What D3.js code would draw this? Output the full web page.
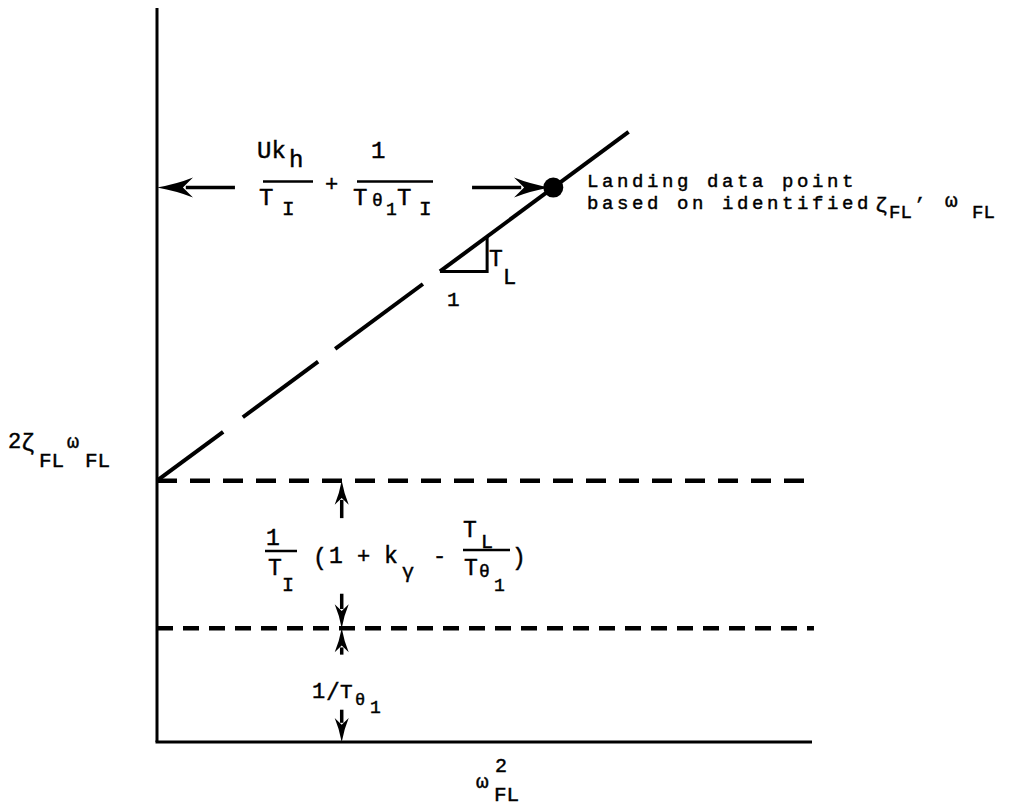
<!DOCTYPE html>
<html>
<head>
<meta charset="utf-8">
<script src="https://cdn.jsdelivr.net/npm/d3@7"></script>
<style>
  html, body { margin: 0; padding: 0; background: #fff; }
  svg { display: block; }
  text { font-family: "Liberation Mono", "Courier New", monospace; fill: #000; stroke: #000; stroke-width: 0.45px; }
</style>
</head>
<body>
<svg id="chart" width="1016" height="810"></svg>
<script>
// Domains of the schematic axes (omega_FL^2 horizontally, 2*zeta*omega vertically)
const xDomain = [0, 10];
const yDomain = [0, 10];

// Levels on the vertical axis
const thetaLevel = 1.55;      // 1/T_theta1
const interceptLevel = 3.56;  // 1/T_theta1 + (1/T_I)(1 + k_gamma - T_L/T_theta1)
const slopeTL = 0.66;         // slope of the line, T_L

// Landing data point abscissa
const pointX = [6.05];

// Broken (extrapolated) part of the line, then the solid part
const dashedRuns = [[0, 1.01], [1.31, 2.46], [2.72, 4.06]];
const solidRun = [4.32, 7.2];

// Slope triangle under the line
const triangleX = [4.32, 5.04];

// Horizontal reference levels and where they stop
const levelValues = [interceptLevel, thetaLevel];
const levelEnds = [9.91, 10.03];

// Dimension arrows
const spanArrowX = 2.82;
const upperSpanArrows = [[3.05, interceptLevel], [2.02, thetaLevel]];
const lowerSpanArrows = [[1.19, thetaLevel], [0.44, 0]];
const pointArrows = [[1.19, 0], [4.81, 6.0]];

const svg = d3.select("#chart");
const x = d3.scaleLinear().domain(xDomain).range([157, 812]);
const y = d3.scaleLinear().domain(yDomain).range([742, 8]);
const lineY = v => interceptLevel + slopeTL * v;

// Axes: plain lines without ticks
svg.append("line").attr("x1", x(0)).attr("x2", x(0)).attr("y1", y(10)).attr("y2", y(0))
  .attr("stroke", "#000").attr("stroke-width", 3);
svg.append("line").attr("x1", x(0) - 1.5).attr("x2", x(10)).attr("y1", y(0)).attr("y2", y(0))
  .attr("stroke", "#000").attr("stroke-width", 3);

// Horizontal dashed levels
const dashPatterns = ["20,13", "16,10"];
svg.selectAll(".level").data(levelValues).join("line")
  .attr("class", "level")
  .attr("x1", x(0)).attr("x2", (d, i) => x(levelEnds[i]))
  .attr("y1", d => y(d)).attr("y2", d => y(d))
  .attr("stroke", "#000").attr("stroke-width", 4.5)
  .attr("stroke-dasharray", (d, i) => dashPatterns[i]);

// Fitted line: dashed near the intercept, solid through the data point
svg.selectAll(".run").data(dashedRuns.concat([solidRun])).join("line")
  .attr("class", "run")
  .attr("x1", d => x(d[0])).attr("y1", d => y(lineY(d[0])))
  .attr("x2", d => x(d[1])).attr("y2", d => y(lineY(d[1])))
  .attr("stroke", "#000").attr("stroke-width", 4).attr("stroke-linecap", "butt");

// Slope triangle
svg.append("path")
  .attr("d", d3.line()([
    [x(triangleX[0]), y(lineY(triangleX[0]))],
    [x(triangleX[1]), y(lineY(triangleX[0]))],
    [x(triangleX[1]), y(lineY(triangleX[1]))]
  ]))
  .attr("fill", "none").attr("stroke", "#000").attr("stroke-width", 3);

// Landing data point
svg.selectAll(".pt").data(pointX).join("circle")
  .attr("class", "pt")
  .attr("cx", d => x(d)).attr("cy", d => y(lineY(d))).attr("r", 10).attr("fill", "#000");

// Arrow helper: shaft from tail to tip with a swept head at the tip
function arrow(x0, y0, x1, y1, L, W) {
  const dx = x1 - x0, dy = y1 - y0, len = Math.hypot(dx, dy);
  const ux = dx / len, uy = dy / len, px = -uy, py = ux;
  const bx = x1 - ux * L * 0.8, by = y1 - uy * L * 0.8;
  svg.append("line").attr("x1", x0).attr("y1", y0).attr("x2", bx).attr("y2", by)
    .attr("stroke", "#000").attr("stroke-width", 3.5);
  const p = d3.path();
  p.moveTo(x1, y1);
  p.quadraticCurveTo(x1 - ux * L * 0.55 + px * W * 0.35, y1 - uy * L * 0.55 + py * W * 0.35,
                     x1 - ux * L + px * W, y1 - uy * L + py * W);
  p.lineTo(x1 - ux * L * 0.72, y1 - uy * L * 0.72);
  p.lineTo(x1 - ux * L - px * W, y1 - uy * L - py * W);
  p.quadraticCurveTo(x1 - ux * L * 0.55 - px * W * 0.35, y1 - uy * L * 0.55 - py * W * 0.35, x1, y1);
  p.closePath();
  svg.append("path").attr("d", p.toString()).attr("fill", "#000");
}

// Arrows pointing to the axis and to the data point
const pY = y(lineY(pointX[0]));
pointArrows.forEach(([from, to]) => arrow(x(from), pY, x(to), pY, 36, 10));

// Vertical dimension arrows between the levels
upperSpanArrows.concat(lowerSpanArrows).forEach(([from, to]) =>
  arrow(x(spanArrowX), y(from), x(spanArrowX), y(to), 24, 7));

// Text helpers
function txt(px, py, s, size) {
  return svg.append("text").attr("x", px).attr("y", py).attr("font-size", size).text(s);
}
function bar(x0, x1, yy) {
  svg.append("line").attr("x1", x0).attr("x2", x1).attr("y1", yy).attr("y2", yy)
    .attr("stroke", "#000").attr("stroke-width", 2.5);
}

// Uk_h/T_I + 1/(T_theta1 T_I)
const fb = pY - 6;
txt(257, fb - 24, "Uk", 24);
txt(289, fb - 15, "h", 24);
bar(263, 313, fb);
txt(259, fb + 23, "T", 24);
txt(282, fb + 33, "I", 21);
txt(325, fb + 9, "+", 22);
txt(371, fb - 24, "1", 24);
bar(357, 433, fb);
txt(353, fb + 23, "T", 24);
txt(372, fb + 24, "\u03b8", 18);
txt(386, fb + 33, "1", 18);
txt(397, fb + 23, "T", 24);
txt(419, fb + 33, "I", 21);

// Landing data point caption (one text block)
const cap = svg.append("text").attr("font-size", 19);
cap.append("tspan").attr("x", 587).attr("y", 187).attr("letter-spacing", 3.6).text("Landing data point");
cap.append("tspan").attr("x", 587).attr("y", 209).attr("letter-spacing", 3.6).text("based on identified");
cap.append("tspan").attr("x", 875).attr("y", 212).attr("font-size", 21).text("\u03b6");
cap.append("tspan").attr("x", 889).attr("y", 218).attr("font-size", 19).text("FL");
cap.append("tspan").attr("x", 914).attr("y", 210).text("\u2019");
cap.append("tspan").attr("x", 945).attr("y", 207).attr("font-size", 21).text("\u03c9");
cap.append("tspan").attr("x", 972).attr("y", 218).attr("font-size", 19).text("FL");

// Slope triangle labels
txt(489, 266, "T", 23);
txt(503, 284, "L", 22);
txt(447, 306, "1", 21);

// Vertical axis title
const yl = svg.append("text").attr("font-size", 22);
yl.append("tspan").attr("x", 8).attr("y", 448).text("2");
yl.append("tspan").attr("x", 21).attr("y", 451).attr("font-size", 23).text("\u03b6");
yl.append("tspan").attr("x", 39).attr("y", 467).attr("font-size", 21).text("FL");
yl.append("tspan").attr("x", 67).attr("y", 448).attr("font-size", 20).text("\u03c9");
yl.append("tspan").attr("x", 85).attr("y", 467).attr("font-size", 21).text("FL");

// Horizontal axis title
const xl = svg.append("text").attr("font-size", 21);
xl.append("tspan").attr("x", 476).attr("y", 788).text("\u03c9");
xl.append("tspan").attr("x", 495).attr("y", 772).attr("font-size", 20).text("2");
xl.append("tspan").attr("x", 494).attr("y", 801).attr("font-size", 21).text("FL");

// (1/T_I)(1 + k_gamma - T_L/T_theta1)
txt(266, 545, "1", 23);
bar(265, 297, 551);
txt(268, 575, "T", 23);
txt(282, 591, "I", 20);
txt(313, 565, "(", 23);
txt(329, 563, "1", 23);
txt(357, 563, "+", 22);
txt(384, 563, "k", 23);
txt(402, 578, "\u03b3", 20);
txt(433, 563, "-", 22);
txt(463, 537, "T", 23);
txt(481, 548, "L", 20);
bar(463, 510, 550);
txt(464, 575, "T", 23);
txt(479, 577, "\u03b8", 18);
txt(494, 591, "1", 18);
txt(512, 565, ")", 23);

// 1/T_theta1
txt(312, 698, "1", 22);
txt(326, 700, "/", 23);
txt(340, 698, "T", 21);
txt(355, 705, "\u03b8", 17);
txt(370, 713, "1", 18);
</script>
</body>
</html>
